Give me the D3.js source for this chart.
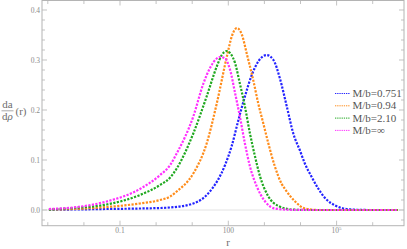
<!DOCTYPE html>
<html>
<head>
<meta charset="utf-8">
<script src="https://cdn.jsdelivr.net/npm/d3@7"></script>
<style>
  body { margin: 0; background: #fff; }
  svg { display: block; }
  text { font-family: "Liberation Serif", "DejaVu Serif", serif; }
</style>
</head>
<body>
<div id="chart"></div>
<script>
// series: log10(r) and da/drho
const seriesNames = ["M/b=0.751", "M/b=0.94", "M/b=2.10", "M/b=\u221e"];
const seriesColors = ["#2323ff", "#ff8c1a", "#1fa81f", "#ff30ff"];

const logR_blue = [-2.97, -2.30, -1.37, -0.45, 0.11, 0.39, 1.03, 1.49, 1.91, 2.09, 2.28, 2.46, 2.65, 2.83, 3.06, 3.25, 3.43, 3.62, 3.80, 3.99, 4.12, 4.31, 4.49, 4.68, 4.96, 5.19, 5.56, 5.93, 6.70];
const val_blue  = [0.0005, 0.001, 0.002, 0.003, 0.004, 0.005, 0.013, 0.037, 0.09, 0.127, 0.18, 0.227, 0.27, 0.297, 0.31, 0.30, 0.263, 0.207, 0.153, 0.118, 0.093, 0.066, 0.043, 0.024, 0.009, 0.003, 0.0005, 0, 0];

const logR_orange = [-2.97, -2.30, -1.37, -0.45, 0.11, 0.39, 0.57, 1.03, 1.40, 1.68, 1.96, 2.10, 2.24, 2.38, 2.51, 2.69, 2.83, 2.97, 3.11, 3.29, 3.48, 3.57, 3.85, 4.12, 4.50, 6.70];
const val_orange  = [0.001, 0.002, 0.006, 0.013, 0.02, 0.027, 0.037, 0.073, 0.133, 0.213, 0.307, 0.348, 0.364, 0.35, 0.313, 0.26, 0.213, 0.173, 0.133, 0.087, 0.052, 0.042, 0.017, 0.003, 0, 0];

const logR_green = [-2.97, -2.30, -1.37, -0.45, 0.11, 0.39, 0.57, 1.03, 1.40, 1.68, 1.82, 1.96, 2.07, 2.19, 2.32, 2.46, 2.60, 2.74, 2.88, 3.11, 3.39, 3.76, 4.12, 6.70];
const val_green  = [0.001, 0.004, 0.011, 0.03, 0.05, 0.065, 0.083, 0.153, 0.227, 0.287, 0.31, 0.318, 0.312, 0.293, 0.253, 0.207, 0.153, 0.107, 0.067, 0.027, 0.008, 0.001, 0, 0];

const logR_magenta = [-2.97, -2.30, -1.37, -0.45, 0.11, 0.39, 0.57, 1.03, 1.31, 1.50, 1.68, 1.77, 1.91, 2.05, 2.19, 2.32, 2.46, 2.60, 2.79, 3.02, 3.29, 3.71, 4.50, 6.70];
const val_magenta  = [0.002, 0.005, 0.017, 0.042, 0.07, 0.09, 0.113, 0.187, 0.253, 0.285, 0.303, 0.306, 0.303, 0.28, 0.233, 0.187, 0.133, 0.087, 0.047, 0.017, 0.003, 0.0005, 0, 0];

const xDecades = [1e-3, 1e-2, 1e-1, 1, 10, 100, 1e3, 1e4, 1e5, 1e6];
const xLabels = [{v: 0.1, base: "0.1"}, {v: 100, base: "100"}, {v: 1e5, base: "10", sup: "5"}];
const yMajor = [0, 0.1, 0.2, 0.3, 0.4];
const yLabels = ["0.0", "0.1", "0.2", "0.3", "0.4"];
const yMinor = d3.range(-0.02, 0.421, 0.02);

const width = 407, height = 249;
const plot = {left: 42, right: 404, top: 0.5, bottom: 225.7};

const svg = d3.select("#chart").append("svg")
  .attr("width", width)
  .attr("height", height);

const x = d3.scaleLog()
  .domain([Math.pow(10, -3.161), Math.pow(10, 6.867)])
  .range([plot.left, plot.right]);

const y = d3.scaleLinear()
  .domain([-0.0314, 0.419])
  .range([plot.bottom, plot.top]);

// zero line
svg.append("line")
  .attr("x1", plot.left).attr("x2", plot.right)
  .attr("y1", y(0)).attr("y2", y(0))
  .attr("stroke", "#e2e2e2")
  .attr("stroke-width", 1);

// curves
const line = d3.line()
  .x(d => x(Math.pow(10, d[0])))
  .y(d => y(d[1]))
  .curve(d3.curveMonotoneX);

const allSeries = [
  d3.zip(logR_blue, val_blue),
  d3.zip(logR_orange, val_orange),
  d3.zip(logR_green, val_green),
  d3.zip(logR_magenta, val_magenta)
];

svg.append("g")
  .selectAll("path")
  .data(allSeries)
  .join("path")
  .attr("d", line)
  .attr("fill", "none")
  .attr("stroke", (d, i) => seriesColors[i])
  .attr("stroke-width", 2.2)
  .attr("stroke-dasharray", "2.2,1.4");

// frame
svg.append("rect")
  .attr("x", plot.left).attr("y", plot.top)
  .attr("width", plot.right - plot.left)
  .attr("height", plot.bottom - plot.top)
  .attr("fill", "none")
  .attr("stroke", "#b4b4b4")
  .attr("stroke-width", 1);

const tickColor = "#b4b4b4";

// x ticks, bottom and top
const xt = svg.append("g").attr("stroke", tickColor).attr("stroke-width", 0.8);
xDecades.forEach(v => {
  const major = xLabels.some(l => l.v === v);
  const len = major ? 5 : 3.5;
  xt.append("line").attr("x1", x(v)).attr("x2", x(v))
    .attr("y1", plot.bottom).attr("y2", plot.bottom - len);
  xt.append("line").attr("x1", x(v)).attr("x2", x(v))
    .attr("y1", plot.top).attr("y2", plot.top + len);
});

// y ticks, left and right
const yt = svg.append("g").attr("stroke", tickColor).attr("stroke-width", 0.8);
yMinor.forEach(v => {
  const major = yMajor.some(m => Math.abs(m - v) < 1e-6);
  const len = major ? 5 : 3;
  yt.append("line").attr("x1", plot.left).attr("x2", plot.left + len)
    .attr("y1", y(v)).attr("y2", y(v));
  yt.append("line").attr("x1", plot.right).attr("x2", plot.right - len)
    .attr("y1", y(v)).attr("y2", y(v));
});

// tick labels
const labColor = "#8a8a8a";
xLabels.forEach(l => {
  const t = svg.append("text")
    .attr("x", x(l.v))
    .attr("y", 233)
    .attr("text-anchor", "middle")
    .attr("font-size", 7.5)
    .attr("fill", labColor)
    .text(l.base);
  if (l.sup) {
    t.append("tspan")
      .attr("font-size", 5)
      .attr("dy", -3)
      .text(l.sup);
  }
});

svg.append("g")
  .selectAll("text")
  .data(yMajor)
  .join("text")
  .attr("x", 40)
  .attr("y", d => y(d) + 2.6)
  .attr("text-anchor", "end")
  .attr("font-size", 7.5)
  .attr("fill", labColor)
  .text((d, i) => yLabels[i]);

// axis titles
const titleColor = "#6e6e6e";
svg.append("text")
  .attr("x", 228)
  .attr("y", 246)
  .attr("text-anchor", "middle")
  .attr("font-size", 11)
  .attr("fill", titleColor)
  .text("r");

const yTitle = svg.append("g").attr("fill", titleColor);
yTitle.append("text")
  .attr("x", 7.5).attr("y", 107.5)
  .attr("text-anchor", "middle")
  .attr("font-size", 11)
  .text("da");
yTitle.append("line")
  .attr("x1", 1.5).attr("x2", 13.5)
  .attr("y1", 110.8).attr("y2", 110.8)
  .attr("stroke", titleColor)
  .attr("stroke-width", 0.6);
yTitle.append("text")
  .attr("x", 7.5).attr("y", 120)
  .attr("text-anchor", "middle")
  .attr("font-size", 11)
  .html("d<tspan font-style='italic'>\u03c1</tspan>");
yTitle.append("text")
  .attr("x", 15.5).attr("y", 114.5)
  .attr("font-size", 11)
  .text("(r)");

// legend
const legend = svg.append("g")
  .selectAll("g")
  .data(seriesNames)
  .join("g")
  .attr("transform", (d, i) => `translate(335,${93.5 + i * 12.3})`);

legend.append("line")
  .attr("x1", 0).attr("x2", 14.5)
  .attr("y1", 0).attr("y2", 0)
  .attr("stroke", (d, i) => seriesColors[i])
  .attr("stroke-width", 1)
  .attr("stroke-dasharray", "1.3,0.9");

legend.append("text")
  .attr("x", 17.5)
  .attr("y", 3.5)
  .attr("font-size", 11)
  .attr("fill", "#555")
  .text(d => d);
</script>
</body>
</html>
